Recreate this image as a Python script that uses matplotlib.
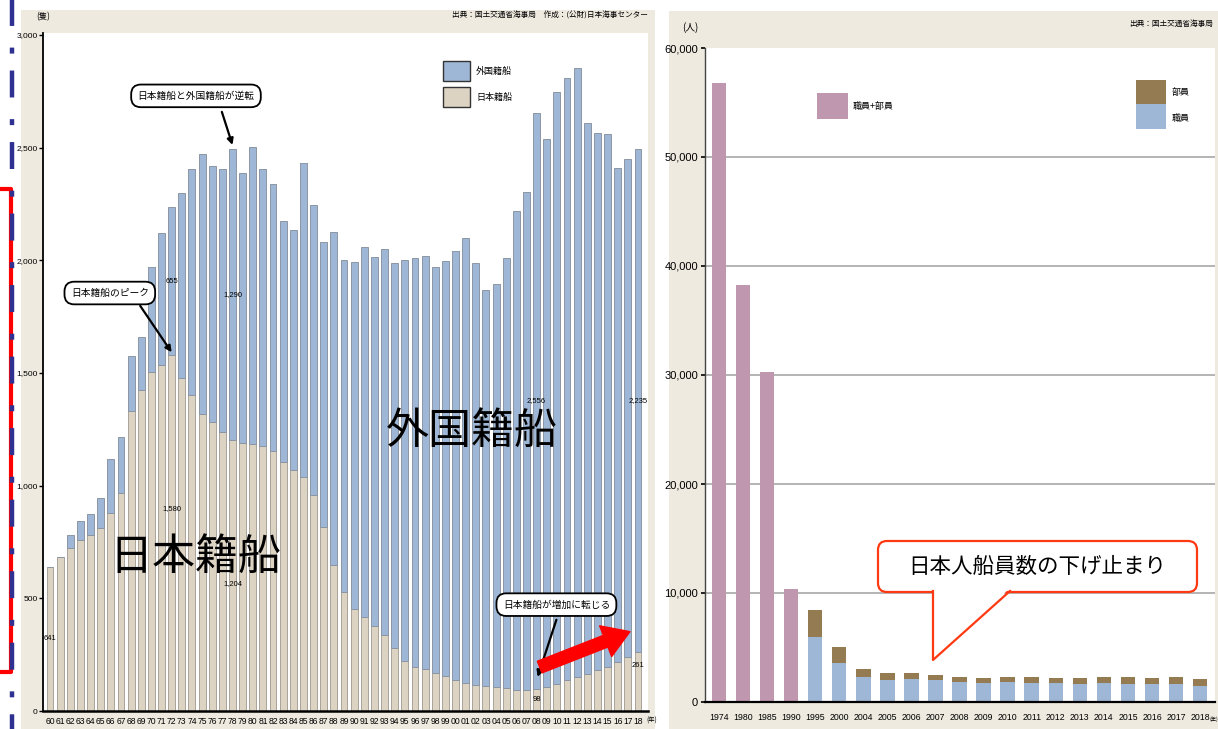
import matplotlib
matplotlib.use("Agg")
import matplotlib.pyplot as plt
from matplotlib.patches import Rectangle, FancyBboxPatch, Polygon
from matplotlib.lines import Line2D
from matplotlib.transforms import Affine2D

plt.rcParams['font.family'] = ['Noto Sans CJK JP', 'DejaVu Sans']
plt.rcParams['lines.scale_dashes'] = False

JP = ['Noto Sans CJK JP', 'DejaVu Sans']
NUM = ['Liberation Sans', 'Noto Sans CJK JP', 'DejaVu Sans']

# --- 外航日本商船隊の船舶数 (隻) ---
years = list(range(1960, 2019))
japan_ships = [
    641, 683, 723, 759, 781, 812, 879, 968, 1331, 1425,
    1505, 1536, 1580, 1478, 1403, 1318, 1283, 1238, 1204, 1190,
    1185, 1176, 1154, 1105, 1070, 1039, 959, 817, 648, 528,
    453, 417, 377, 337, 280, 222, 195, 186, 169, 155,
    138, 124, 115, 111, 107, 102, 95, 92, 98, 107,
    119, 136, 150, 166, 184, 197, 219, 238, 261,
]
foreign_ships = [
    0, 0, 58, 84, 93, 133, 239, 248, 245, 235,
    466, 586, 655, 821, 1002, 1154, 1136, 1168, 1290, 1198,
    1318, 1230, 1185, 1070, 1065, 1393, 1287, 1265, 1478, 1474,
    1540, 1643, 1638, 1714, 1709, 1780, 1816, 1834, 1802, 1842,
    1904, 1976, 1874, 1758, 1788, 1909, 2124, 2212, 2556, 2432,
    2628, 2674, 2704, 2444, 2382, 2364, 2191, 2212, 2235,
]

# --- 外航日本人船員数 (人) ---
crew_years = ['1974', '1980', '1985', '1990', '1995', '2000', '2004', '2005',
              '2006', '2007', '2008', '2009', '2010', '2011', '2012', '2013',
              '2014', '2015', '2016', '2017', '2018']
crew_total_old = [56800, 38300, 30300, 10400]          # 職員+部員
officers = [5930, 3600, 2300, 2060, 2080, 2020, 1880, 1740, 1800, 1750,
            1720, 1650, 1750, 1640, 1660, 1660, 1510]   # 職員 (1995-)
ratings = [2520, 1430, 740, 560, 580, 450, 410, 430, 480, 540,
           480, 590, 550, 660, 530, 620, 570]           # 部員 (1995-)

BLUE = '#9eb7d7'
BEIGE = '#ddd3c2'
PINK = '#bf97ae'
BROWN = '#957b52'
BG = '#eeeadf'

W, H = 1218, 729
fig = plt.figure(figsize=(W / 100, H / 100), dpi=100)
fig.patch.set_facecolor('white')
pix = Affine2D().scale(1 / W, -1 / H).translate(0, 1) + fig.transFigure


def rect(x0, y0, x1, y1):
    return [x0 / W, 1 - y1 / H, (x1 - x0) / W, (y1 - y0) / H]


# panel backgrounds
fig.add_artist(Rectangle((21, 10), 634, 719, transform=pix, fc=BG, ec='none', zorder=-10))
fig.add_artist(Rectangle((669, 11), 549, 718, transform=pix, fc=BG, ec='none', zorder=-10))

# ================= left: 船舶数 =================
ax1 = fig.add_axes(rect(43, 33, 648, 711))
ax1.set_facecolor('white')
ax1.bar(years, japan_ships, width=0.68, color=BEIGE, edgecolor='#a8a298', linewidth=0.7, zorder=2)
ax1.bar(years, foreign_ships, bottom=japan_ships, width=0.68, color=BLUE,
        edgecolor='#8c96a3', linewidth=0.7, zorder=2)
ax1.set_xlim(1959.31, 2018.985)
ax1.set_ylim(0, 3009)
for s in ('top', 'right'):
    ax1.spines[s].set_visible(False)
ax1.spines['left'].set_linewidth(1.3)
ax1.spines['bottom'].set_linewidth(1.8)
ax1.set_yticks(range(0, 3001, 500))
ax1.set_yticklabels([f'{v:,}' for v in range(0, 3001, 500)], family=NUM, fontsize=6)
ax1.tick_params(axis='y', length=3, width=1, pad=1)
ax1.set_xticks(years)
ax1.set_xticklabels([f'{y % 100:02d}' for y in years], family=NUM, fontsize=6.2)
ax1.tick_params(axis='x', length=0, pad=4)
fig.text(646 / W, 1 - 721 / H, '(年)', fontsize=4.5, ha='left', va='center')

# segment value labels
i72, i78, i08, i18 = years.index(1972), years.index(1978), years.index(2008), years.index(2018)
lbl = dict(family=NUM, fontsize=5.5, ha='center', va='center', zorder=4)
ax1.text(1960, japan_ships[0] / 2, f'{japan_ships[0]:,}', **lbl)
ax1.text(1972, japan_ships[i72] + foreign_ships[i72] / 2, f'{foreign_ships[i72]:,}', **lbl)
ax1.text(1972, 900, f'{japan_ships[i72]:,}', **lbl)
ax1.text(1978, japan_ships[i78] + foreign_ships[i78] / 2, f'{foreign_ships[i78]:,}', **lbl)
ax1.text(1978, japan_ships[i78] / 2 - 35, f'{japan_ships[i78]:,}', **lbl)
ax1.text(2008, japan_ships[i08] + foreign_ships[i08] / 2, f'{foreign_ships[i08]:,}', **lbl)
ax1.text(2008, japan_ships[i08] - 45, f'{japan_ships[i08]:,}', **lbl)
ax1.text(2018, japan_ships[i18] + foreign_ships[i18] / 2, f'{foreign_ships[i18]:,}', **lbl)
ax1.text(2018, japan_ships[i18] - 60, f'{japan_ships[i18]:,}', **lbl)

# big area labels
ax1.text(1974.3, 680, '日本籍船', fontsize=31, ha='center', va='center', zorder=4)
ax1.text(2001.6, 1238, '外国籍船', fontsize=31, ha='center', va='center', zorder=4)

# callouts
box = dict(boxstyle='round,pad=0.65,rounding_size=1.0', fc='white', ec='black', lw=1.3)
arrow = dict(arrowstyle='-|>', lw=1.6, color='black', mutation_scale=9, shrinkA=0, shrinkB=0)
ax1.text(1974.4, 2730, '日本籍船と外国籍船が逆転', fontsize=7, ha='center', va='center', bbox=box, zorder=5)
ax1.annotate('', xy=(1978.0, 2512), xytext=(1976.95, 2659), arrowprops=arrow, zorder=5)
ax1.text(1965.9, 1855, '日本籍船のピーク', fontsize=7, ha='center', va='center', bbox=box, zorder=5)
ax1.annotate('', xy=(1972.0, 1592), xytext=(1968.9, 1798), arrowprops=arrow, zorder=5)
ax1.text(2009.95, 472, '日本籍船が増加に転じる', fontsize=7, ha='center', va='center', bbox=box, zorder=5)
ax1.annotate('', xy=(2008.1, 151), xytext=(2009.95, 405), arrowprops=arrow, zorder=5)

# red trend arrow
ax1.annotate('', xy=(2017.2, 352), xytext=(2008.3, 195),
             arrowprops=dict(arrowstyle='simple,head_length=0.75,head_width=0.95,tail_width=0.36',
                             mutation_scale=25, fc='#ff0000', ec='#ff0000',
                             shrinkA=0, shrinkB=0), zorder=6)

# legend + header
fig.add_artist(Rectangle((443, 61), 27, 20, transform=pix, fc=BLUE, ec='#333333', lw=1))
fig.add_artist(Rectangle((443, 87), 27, 20, transform=pix, fc=BEIGE, ec='#333333', lw=1))
fig.text(476 / W, 1 - 71 / H, '外国籍船', fontsize=6.5, va='center')
fig.text(476 / W, 1 - 97 / H, '日本籍船', fontsize=6.5, va='center')
fig.text(43 / W, 1 - 17 / H, '(隻)', fontsize=6, ha='center', va='center')
fig.text(648 / W, 1 - 16 / H, '出典：国土交通省海事局　作成：(公財)日本海事センター',
         fontsize=5.5, ha='right', va='center')

# ================= right: 船員数 =================
ax2 = fig.add_axes(rect(705, 48, 1215, 702))
ax2.set_facecolor('white')
n_old = len(crew_total_old)
x_old = list(range(n_old))
x_new = list(range(n_old, len(crew_years)))
ax2.bar(x_old, crew_total_old, width=0.6, color=PINK, zorder=2)
ax2.bar(x_new, officers, width=0.6, color=BLUE, zorder=2)
ax2.bar(x_new, ratings, bottom=officers, width=0.6, color=BROWN, zorder=2)
for v in range(10000, 60000, 10000):
    ax2.axhline(v, color='#a0a0a0', lw=1.1, zorder=0)
ax2.set_xlim(-0.58, 20.62)
ax2.set_ylim(0, 60000)
for s in ('top', 'right'):
    ax2.spines[s].set_visible(False)
ax2.spines['left'].set_color('#444444')
ax2.spines['left'].set_linewidth(1.0)
ax2.spines['bottom'].set_linewidth(1.6)
ax2.set_yticks(range(0, 60001, 10000))
ax2.set_yticklabels([f'{v:,}' for v in range(0, 60001, 10000)], family=NUM, fontsize=8)
ax2.tick_params(axis='y', length=3, width=1.2, pad=2)
ax2.set_xticks(range(len(crew_years)))
ax2.set_xticklabels(crew_years, family=NUM, fontsize=6.3)
ax2.tick_params(axis='x', length=0, pad=8)
fig.text(1209.5 / W, 1 - 719 / H, '(年)', fontsize=3.8, ha='left', va='center')

fig.add_artist(Rectangle((817, 93), 31, 26, transform=pix, fc=PINK, ec='none'))
fig.text(853 / W, 1 - 106 / H, '職員+部員', fontsize=6.5, va='center')
fig.add_artist(Rectangle((1136, 80), 30, 24, transform=pix, fc=BROWN, ec='none'))
fig.add_artist(Rectangle((1136, 104), 30, 25, transform=pix, fc=BLUE, ec='none'))
fig.text(1172 / W, 1 - 92 / H, '部員', fontsize=6.5, va='center')
fig.text(1172 / W, 1 - 118 / H, '職員', fontsize=6.5, va='center')
fig.text(690 / W, 1 - 28 / H, '(人)', fontsize=7, ha='center', va='center')
fig.text(1213 / W, 1 - 24 / H, '出典：国土交通省海事局', fontsize=5.5, ha='right', va='center')

# speech bubble
RED = '#ff3a12'
fig.add_artist(FancyBboxPatch((878, 541), 319, 51, transform=pix,
                              boxstyle='round,pad=0,rounding_size=9',
                              fc='white', ec=RED, lw=1.6, zorder=5))
fig.add_artist(Polygon([(933, 588), (933, 660), (1010, 588)], closed=True,
                       transform=pix, fc='white', ec='none', zorder=6))
fig.add_artist(Line2D([933, 933, 1010], [591, 660, 591], transform=pix,
                      color=RED, lw=1.6, zorder=7))
fig.text(1037 / W, 1 - 567 / H, '日本人船員数の下げ止まり', fontsize=15.5,
         ha='center', va='center', zorder=8)

# slide frame marks on the far left
fig.add_artist(Line2D([0, 11, 11, 0], [189, 189, 672, 672], transform=pix,
                      color='#ff0000', lw=3, solid_joinstyle='round', zorder=8))
dash_dot = Line2D([12, 12], [-21.6, 740], transform=pix, color='#2e3192', lw=3.2,
                  solid_capstyle='butt', dash_capstyle='butt', zorder=9)
dash_dot.set_dashes([19.4, 15.6, 4.3, 12.2])
fig.add_artist(dash_dot)

fig.savefig('out.png', dpi=100)
